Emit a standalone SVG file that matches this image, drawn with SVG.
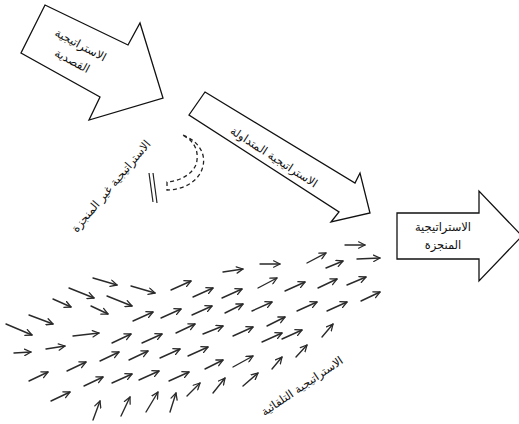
<svg xmlns="http://www.w3.org/2000/svg" width="519" height="424" viewBox="0 0 519 424">
  <style>
    .box { fill: #fff; stroke: #111; stroke-width: 1.3; stroke-linejoin: miter; }
    .lbl { font-family: "DejaVu Sans", sans-serif; font-size: 11.5px; fill: #111; text-anchor: middle; }
    .e { fill: none; stroke: #2a2a2a; stroke-width: 1.4; stroke-linecap: round; marker-end: url(#head); }
    .dash { fill: none; stroke: #222; stroke-width: 1.3; stroke-dasharray: 4 3; }
    .bar { stroke: #222; stroke-width: 1.2; }
  </style>
  <defs>
    <marker id="head" viewBox="0 0 10 10" refX="9" refY="5" markerWidth="8" markerHeight="8" orient="auto" markerUnits="userSpaceOnUse">
      <path d="M1,1 L9,5 L1,9" fill="none" stroke="#2a2a2a" stroke-width="1.6" stroke-linecap="round" stroke-linejoin="round"/>
    </marker>
  </defs>
  <rect width="519" height="424" fill="#fff"/>

  <!-- intended strategy -->
  <g id="intended">
    <polygon class="box" points="45,5 128,45 140,23 163,98 89,120 100,97 21,53"/>
    <g transform="translate(77,52) rotate(28)">
      <text class="lbl" x="0" y="-4">الاستراتيجية</text>
      <text class="lbl" x="0" y="14">القصدية</text>
    </g>
  </g>

  <!-- deliberate strategy -->
  <g id="deliberate">
    <polygon class="box" points="205,92 355,183 360,173 370,213 331,222 339,212 189,115"/>
    <text class="lbl" transform="translate(274,157) rotate(33)" x="0" y="4">الاستراتيجية المتداولة</text>
  </g>

  <!-- unrealized strategy -->
  <g id="unrealized">
    <text class="lbl" transform="translate(111,186) rotate(-50)" x="0" y="4">الاستراتيجية غير المنجزة</text>
  </g>

  <!-- realized strategy -->
  <g id="realized">
    <polygon class="box" points="397,213 479,213 479,191 522,236 479,281 479,259 397,259"/>
    <text class="lbl" x="443" y="231">الاستراتيجية</text>
    <text class="lbl" x="443" y="249">المنجزة</text>
  </g>

  <!-- emergent strategy -->
  <g id="emergent">
    <text class="lbl" transform="translate(302,386) rotate(-34)" x="0" y="4">الاستراتيجية التلقائية</text>
  </g>

  <g id="connectors">
    <!-- dropped part of the plan -->
    <path class="dash" d="M183,135 C198,141 206,153 203,166 C200,180 185,190 167,190 L167,182 C182,181 196,172 197,160 C198,151 195,145 190,140 Z"/>
    <line class="bar" x1="149" y1="173" x2="153" y2="202"/>
    <line class="bar" x1="153" y1="173" x2="157" y2="203"/>

    <!-- emergent flow -->
    <path class="e" d="M93,278 L117,285"/>
    <path class="e" d="M131,286 L155,293"/>
    <path class="e" d="M171,290 L191,281"/>
    <path class="e" d="M69,288 L94,298"/>
    <path class="e" d="M107,296 L132,306"/>
    <path class="e" d="M53,299 L71,307"/>
    <path class="e" d="M91,306 L108,314"/>
    <path class="e" d="M133,321 L153,312"/>
    <path class="e" d="M161,318 L181,309"/>
    <path class="e" d="M29,315 L53,324"/>
    <path class="e" d="M6,324 L32,335"/>
    <path class="e" d="M73,336 L99,333"/>
    <path class="e" d="M112,343 L131,334"/>
    <path class="e" d="M142,343 L162,334"/>
    <path class="e" d="M176,333 L195,324"/>
    <path class="e" d="M14,353 L31,352"/>
    <path class="e" d="M46,349 L65,346"/>
    <path class="e" d="M100,361 L119,352"/>
    <path class="e" d="M129,360 L148,351"/>
    <path class="e" d="M160,358 L180,349"/>
    <path class="e" d="M29,381 L48,372"/>
    <path class="e" d="M67,371 L86,362"/>
    <path class="e" d="M84,386 L103,377"/>
    <path class="e" d="M112,383 L132,374"/>
    <path class="e" d="M139,380 L159,371"/>
    <path class="e" d="M169,381 L189,372"/>
    <path class="e" d="M51,401 L70,392"/>
    <path class="e" d="M93,420 L100,401"/>
    <path class="e" d="M121,416 L130,397"/>
    <path class="e" d="M146,412 L158,392"/>
    <path class="e" d="M170,412 L176,393"/>
    <path class="e" d="M187,396 L200,383"/>

    <path class="e" d="M345,245 L365,245"/>
    <path class="e" d="M357,259 L380,258"/>
    <path class="e" d="M307,263 L326,253"/>
    <path class="e" d="M326,268 L343,261"/>
    <path class="e" d="M223,272 L243,269"/>
    <path class="e" d="M260,264 L280,264"/>
    <path class="e" d="M193,297 L213,288"/>
    <path class="e" d="M222,298 L242,289"/>
    <path class="e" d="M258,288 L277,278"/>
    <path class="e" d="M285,291 L305,282"/>
    <path class="e" d="M318,288 L337,279"/>
    <path class="e" d="M347,285 L366,277"/>
    <path class="e" d="M361,301 L380,292"/>
    <path class="e" d="M192,315 L212,306"/>
    <path class="e" d="M225,313 L243,304"/>
    <path class="e" d="M252,311 L272,302"/>
    <path class="e" d="M297,311 L317,302"/>
    <path class="e" d="M327,311 L347,302"/>
    <path class="e" d="M203,334 L223,326"/>
    <path class="e" d="M233,336 L253,327"/>
    <path class="e" d="M262,342 L282,333"/>
    <path class="e" d="M267,326 L285,317"/>
    <path class="e" d="M282,339 L302,330"/>
    <path class="e" d="M322,337 L333,324"/>
    <path class="e" d="M188,356 L208,347"/>
    <path class="e" d="M296,357 L307,345"/>
    <path class="e" d="M205,369 L223,360"/>
    <path class="e" d="M233,367 L253,356"/>
    <path class="e" d="M272,369 L282,357"/>
    <path class="e" d="M213,393 L225,378"/>
    <path class="e" d="M243,386 L258,373"/>
  </g>
</svg>
